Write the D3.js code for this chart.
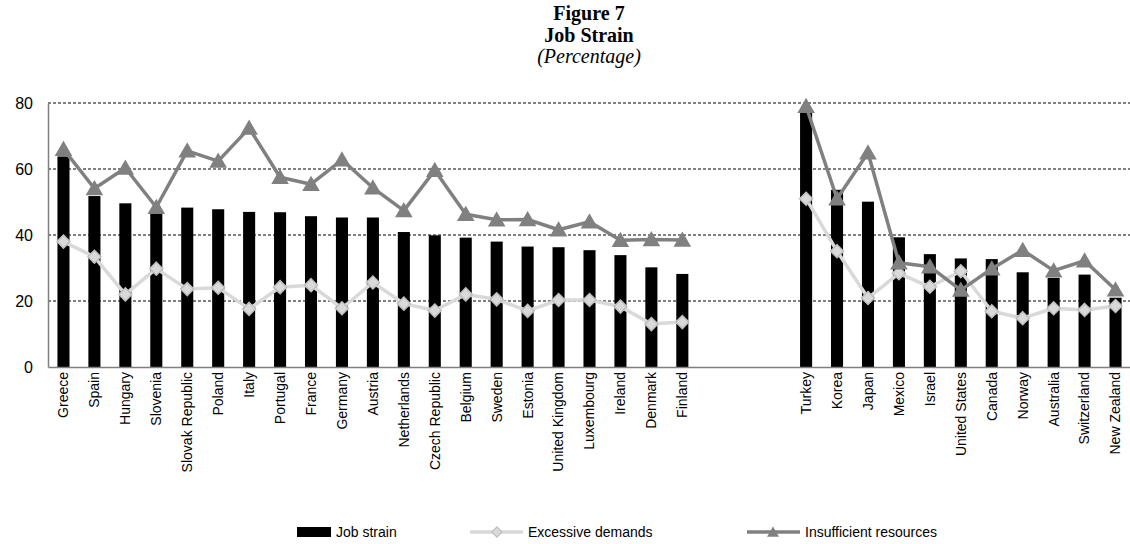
<!DOCTYPE html>
<html>
<head>
<meta charset="utf-8">
<script src="https://cdn.jsdelivr.net/npm/d3@7"></script>
<style>
  body { margin: 0; background: #fff; }
  text { font-family: "Liberation Sans", Arial, sans-serif; }
</style>
</head>
<body>
<div id="chart"></div>
<script>
// null entries are the empty slots between the two country groups
var countries = ["Greece", "Spain", "Hungary", "Slovenia", "Slovak Republic", "Poland", "Italy",
  "Portugal", "France", "Germany", "Austria", "Netherlands", "Czech Republic", "Belgium", "Sweden",
  "Estonia", "United Kingdom", "Luxembourg", "Ireland", "Denmark", "Finland",
  null, null, null,
  "Turkey", "Korea", "Japan", "Mexico", "Israel", "United States", "Canada", "Norway",
  "Australia", "Switzerland", "New Zealand"];

var jobStrain = [63.8, 51.8, 49.6, 47.0, 48.3, 47.8, 47.0, 46.9, 45.7, 45.3, 45.3, 40.9, 39.9, 39.2,
  38.0, 36.5, 36.3, 35.4, 33.9, 30.2, 28.2,
  null, null, null,
  78.0, 53.7, 50.1, 39.3, 34.2, 32.9, 32.7, 28.7, 27.0, 28.0, 21.0];

var excessiveDemands = [38.0, 33.4, 22.0, 29.8, 23.6, 24.0, 17.6, 24.2, 24.8, 17.8, 25.6, 19.2, 17.1,
  22.0, 20.5, 17.0, 20.3, 20.3, 18.3, 13.0, 13.6,
  null, null, null,
  51.0, 35.1, 20.9, 28.4, 24.3, 29.0, 16.9, 14.8, 17.8, 17.3, 18.5];

var insufficientResources = [66.0, 54.1, 60.3, 48.4, 65.5, 62.4, 72.4, 57.5, 55.4, 62.8, 54.3, 47.4,
  59.6, 46.3, 44.6, 44.7, 41.6, 44.0, 38.4, 38.6, 38.5,
  null, null, null,
  79.0, 51.0, 64.9, 31.6, 30.4, 23.3, 29.8, 35.4, 29.2, 32.2, 23.4];

var yTicks = [0, 20, 40, 60, 80];
var titleLines = ["Figure 7", "Job Strain", "(Percentage)"];
var seriesNames = ["Job strain", "Excessive demands", "Insufficient resources"];

var margin = { top: 103, right: 0, bottom: 177, left: 48 };
var totalWidth = 1130, totalHeight = 544;
var width = 1131 - margin.left;
var height = totalHeight - margin.top - margin.bottom;

var svg = d3.select("#chart")
  .append("svg")
  .attr("width", totalWidth)
  .attr("height", totalHeight);

// title
var title = svg.append("g")
  .attr("text-anchor", "middle");
title.selectAll("text")
  .data(titleLines)
  .enter()
  .append("text")
  .attr("x", 589)
  .attr("y", (d, i) => 20 + i * 21.5)
  .attr("font-size", "20px")
  .attr("font-weight", (d, i) => i < 2 ? "bold" : "normal")
  .attr("font-style", (d, i) => i == 2 ? "italic" : "normal")
  .style("font-family", "'Liberation Serif', 'Times New Roman', serif")
  .text(d => d);

var g = svg.append("g")
  .attr("transform", "translate(" + margin.left + "," + margin.top + ")");

var x = d3.scaleBand()
  .domain(d3.range(countries.length))
  .range([0, width])
  .paddingInner(0.61)
  .paddingOuter(0.305);

var y = d3.scaleLinear()
  .domain([0, 80])
  .range([height, 0]);

var cx = i => x(i) + x.bandwidth() / 2;

// dashed gridlines
g.selectAll(".grid")
  .data(yTicks.filter(d => d > 0))
  .enter()
  .append("line")
  .attr("x1", 0)
  .attr("x2", width)
  .attr("y1", d => y(d))
  .attr("y2", d => y(d))
  .attr("stroke", "#000")
  .attr("stroke-width", 1)
  .attr("stroke-dasharray", "3,2");

// bars
g.selectAll(".bar")
  .data(jobStrain.map((v, i) => ({ v, i })).filter(d => d.v != null))
  .enter()
  .append("rect")
  .attr("x", d => x(d.i))
  .attr("y", d => y(d.v))
  .attr("width", x.bandwidth())
  .attr("height", d => height - y(d.v))
  .attr("fill", "#000");

// axes
var yAxis = g.append("g")
  .call(d3.axisLeft(y).tickValues(yTicks).tickSize(0).tickPadding(15));
yAxis.select(".domain").attr("stroke", "#7f7f7f").attr("stroke-width", 1.5);
yAxis.selectAll("text")
  .attr("font-size", "16px")
  .attr("fill", "#000")
  .style("font-family", "'Liberation Sans', Arial, sans-serif");

var xAxis = g.append("g")
  .attr("transform", "translate(0," + height + ")")
  .call(d3.axisBottom(x).tickSize(0).tickFormat(i => countries[i] || ""));
xAxis.select(".domain").attr("stroke", "#7f7f7f").attr("stroke-width", 1.5);
xAxis.selectAll("text")
  .attr("font-size", "14px")
  .attr("fill", "#000")
  .style("font-family", "'Liberation Sans', Arial, sans-serif")
  .style("text-anchor", "end")
  .attr("x", -5)
  .attr("y", 0)
  .attr("dy", "0.35em")
  .attr("transform", "rotate(-90)");

// lines
var line = d3.line()
  .defined(d => d.v != null)
  .x(d => cx(d.i))
  .y(d => y(d.v));

var diamond = "M0,-6.5L6.5,0L0,6.5L-6.5,0Z";
var triangle = "M0,-7L7.5,6L-7.5,6Z";

function drawSeries(values, color, markerPath, markerFill, markerStroke) {
  var pts = values.map((v, i) => ({ v, i }));
  g.append("path")
    .datum(pts)
    .attr("fill", "none")
    .attr("stroke", color)
    .attr("stroke-width", 3.5)
    .attr("stroke-linejoin", "round")
    .attr("d", line);
  g.selectAll(null)
    .data(pts.filter(d => d.v != null))
    .enter()
    .append("path")
    .attr("d", markerPath)
    .attr("transform", d => "translate(" + cx(d.i) + "," + y(d.v) + ")")
    .attr("fill", markerFill)
    .attr("stroke", markerStroke)
    .attr("stroke-width", 1.5);
}

drawSeries(excessiveDemands, "#d9d9d9", diamond, "#d9d9d9", "#bfbfbf");
drawSeries(insufficientResources, "#808080", triangle, "#808080", "#808080");

// legend
var legend = svg.append("g").attr("transform", "translate(0,532)");

legend.append("rect")
  .attr("x", 297).attr("y", -5).attr("width", 34).attr("height", 10)
  .attr("fill", "#000");

legend.append("line")
  .attr("x1", 470).attr("x2", 523).attr("y1", 0).attr("y2", 0)
  .attr("stroke", "#d9d9d9").attr("stroke-width", 3.5);
legend.append("path")
  .attr("d", diamond)
  .attr("transform", "translate(497,0) scale(0.8)")
  .attr("fill", "#d9d9d9").attr("stroke", "#bfbfbf").attr("stroke-width", 1.5);

legend.append("line")
  .attr("x1", 747).attr("x2", 800).attr("y1", 0).attr("y2", 0)
  .attr("stroke", "#808080").attr("stroke-width", 3.5);
legend.append("path")
  .attr("d", triangle)
  .attr("transform", "translate(773,0) scale(0.8)")
  .attr("fill", "#808080");

legend.selectAll("text")
  .data(seriesNames)
  .enter()
  .append("text")
  .attr("x", (d, i) => [336, 528, 805][i])
  .attr("y", 0)
  .attr("dy", "0.35em")
  .attr("font-size", "14px")
  .attr("fill", "#000")
  .text(d => d);
</script>
</body>
</html>
